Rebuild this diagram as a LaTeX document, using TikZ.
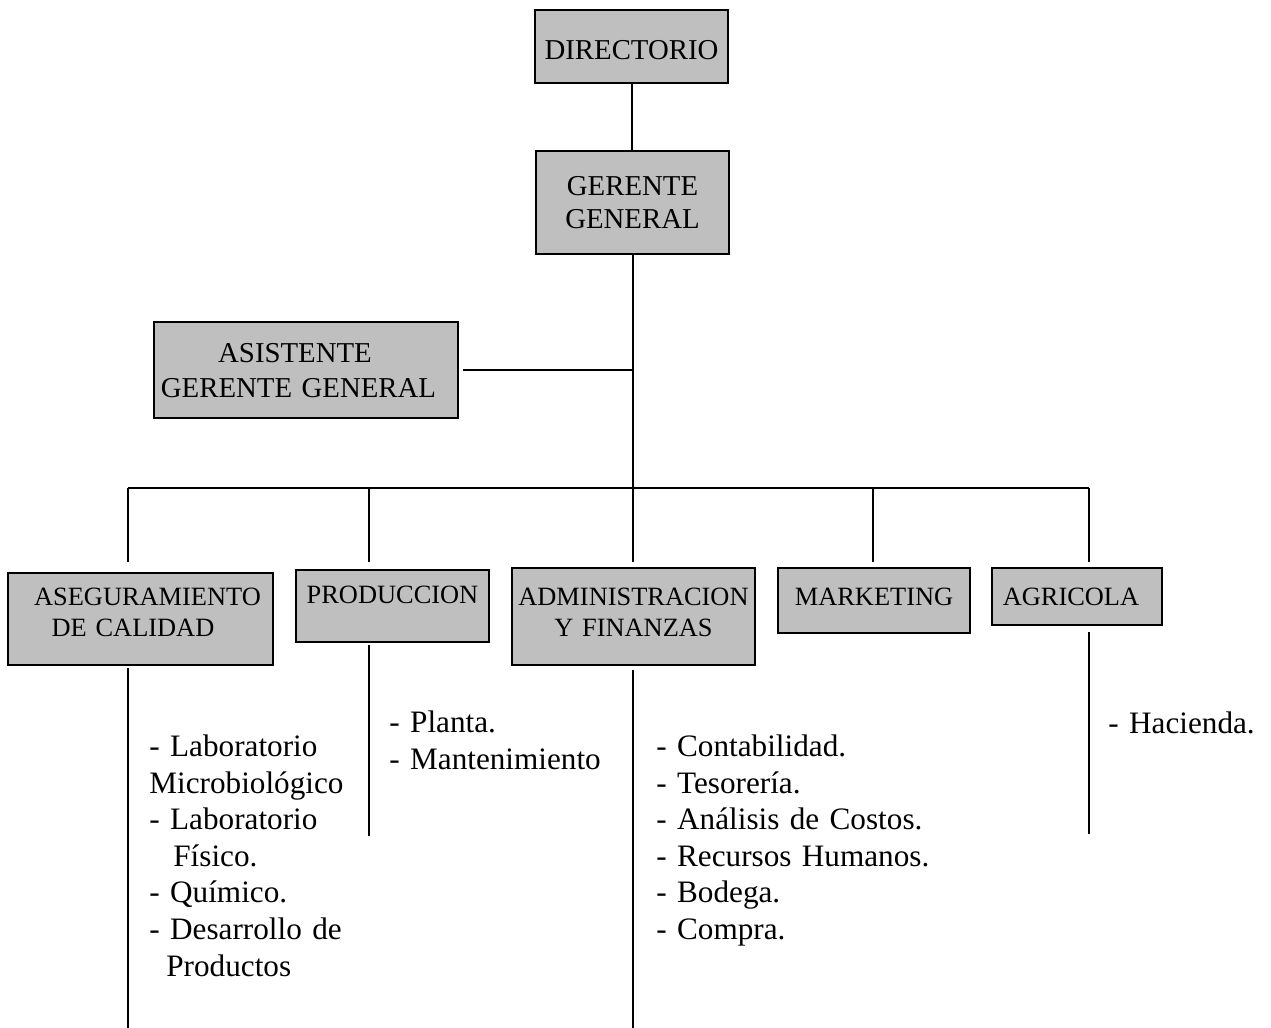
\documentclass[tikz,border=0pt]{standalone}
\usepackage{fontspec}
\setmainfont{Liberation Serif}
\definecolor{boxgray}{gray}{0.75}
\usetikzlibrary{positioning, calc}

\begin{document}
\begin{tikzpicture}[x=0.5pt, y=-0.5pt,
    orgbox/.style={draw=black, line width=1.4pt, fill=boxgray,
      inner sep=0pt, outer sep=0pt, align=center, anchor=north west},
    topfont/.style={font=\fontsize{14.4}{16.5}\selectfont},
    deptfont/.style={font=\fontsize{13.2}{15.5}\selectfont},
    listtext/.style={font=\fontsize{15.6}{18.3}\selectfont,
      align=left, inner sep=0pt, anchor=base west},
    link/.style={line width=1pt}]
      \useasboundingbox (0,0) rectangle (1271,1028);
      % Top
      \node[orgbox, topfont, text width=96.5pt, text height=25pt,
        text depth=11.5pt] (dir) at (535,10) {DIRECTORIO};
      \node[orgbox, topfont, text width=96.5pt, text height=22pt,
        text depth=29.5pt] (ger) at (536,151) {GERENTE\\GENERAL};
      \node[orgbox, font=\fontsize{14.4}{17.5}\selectfont, text width=152pt,
        text height=20pt, text depth=28pt] (asis) at (154,322)
        {\hspace*{-11pt}ASISTENTE\\\hspace*{-7.5pt}GERENTE GENERAL};
      % Departments
      \node[orgbox, deptfont, text width=132.5pt, text height=16pt,
        text depth=30pt] (aseg) at (8,573)
        {\hspace*{7pt}ASEGURAMIENTO\\\hspace*{-7.5pt}DE CALIDAD};
      \node[orgbox, deptfont, text width=96.5pt, text height=16.5pt,
        text depth=19.5pt] (prod) at (296,570) {PRODUCCION};
      \node[orgbox, deptfont, text width=121.5pt, text height=18.5pt,
        text depth=30pt] (admin) at (512,568) {ADMINISTRACION\\Y FINANZAS};
      \node[orgbox, deptfont, text width=96pt, text height=18.5pt,
        text depth=14pt] (mark) at (778,568) {MARKETING};
      \node[orgbox, deptfont, text width=85pt, text height=18.5pt,
        text depth=10pt] (agri) at (992,568) {\hspace*{-6pt}AGRICOLA};
      % Bus
      \coordinate (b1) at (128,488);
      \coordinate (b2) at (369,488);
      \coordinate (b4) at (873,488);
      \coordinate (b5) at (1089,488);
      \draw[link] (dir.south) -- (dir.south |- ger.north);
      \draw[link, shorten >=3pt] (ger.south) -- (ger.south |- admin.north);
      \draw[link, shorten <=2.5pt] (asis.east) -- (asis.east -| ger.south);
      \draw[link] (b1) -- (b5);
      \foreach \b/\n/\s in {b1/aseg/5.5pt, b2/prod/4pt, b4/mark/3pt, b5/agri/3pt}
        \draw[link, shorten >=\s] (\b) -- (\b |- \n.north);
      % Feet
      \coordinate (aseg-foot) at (128,1028);
      \coordinate (prod-foot) at (369,836);
      \coordinate (admin-foot) at (633,1028);
      \coordinate (agri-foot) at (1089,834);
      \foreach \n/\s in {aseg/1.5pt, prod/1.5pt, admin/2.5pt, agri/3.5pt}
        \draw[link, shorten <=\s] (\n-foot |- \n.south) -- (\n-foot);
      % Lists
      \node[listtext, text width=110pt] (aseg-list) at (149,756.5)
        {- Laboratorio\\Microbiológico\\- Laboratorio\\\hspace*{12pt}Físico.\\
         - Químico.\\- Desarrollo de\\\hspace*{8.5pt}Productos};
      \node[listtext, text width=110pt] (prod-list) at (389,732.5)
        {- Planta.\\- Mantenimiento};
      \node[listtext, text width=150pt] (admin-list) at (656,756.5)
        {- Contabilidad.\\- Tesorería.\\- Análisis de Costos.\\
         - Recursos Humanos.\\- Bodega.\\- Compra.};
      \node[listtext, text width=80pt] (agri-list) at (1108,733.5)
        {- Hacienda.};
    \end{tikzpicture}
\end{document}
